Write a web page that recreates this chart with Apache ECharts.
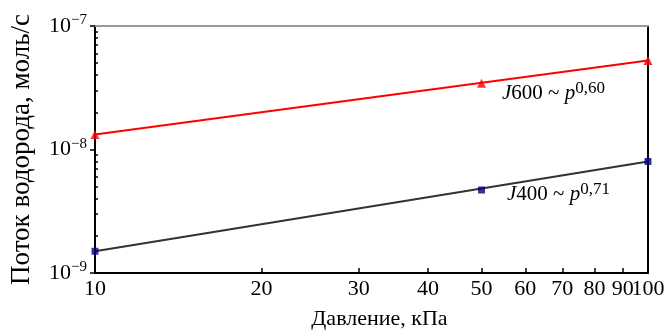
<!DOCTYPE html>
<html>
<head>
<meta charset="utf-8">
<script src="https://cdn.jsdelivr.net/npm/echarts@6/dist/echarts.min.js"></script>
<style>
  html, body { margin: 0; padding: 0; background: #fff; }
  #chart { width: 669px; height: 335px; }
</style>
</head>
<body>
<div id="chart"></div>
<script>
// measured points
const pressure = [10, 50, 100]
const j600 = [1.32e-8, 3.44e-8, 5.25e-8]
const j400 = [1.5e-9, 4.7e-9, 8.0e-9]

// fitted power lines (end points)
const fitX = [10, 100]
const fit600 = [1.32e-8, 5.25e-8]
const fit400 = [1.5e-9, 8.0e-9]

// tick values
const xTicks = [10, 20, 30, 40, 50, 60, 70, 80, 90]
const xLast = [100]
const yMajor = [1e-9, 1e-8, 1e-7]
const yMinor = [2e-9, 3e-9, 4e-9, 5e-9, 6e-9, 7e-9, 8e-9, 9e-9,
  2e-8, 3e-8, 4e-8, 5e-8, 6e-8, 7e-8, 8e-8, 9e-8]

const font = 'Liberation Serif'

const pairs = (xs, ys) => xs.map((x, i) => [x, ys[i]])

const noteRich = {
  i: { fontFamily: font, fontStyle: 'italic', fontSize: 21, lineHeight: 26, fill: '#000' },
  n: { fontFamily: font, fontSize: 21, lineHeight: 26, fill: '#000' },
  s: { fontFamily: font, fontSize: 17, lineHeight: 17, verticalAlign: 'top', fill: '#000' }
}

const chart = echarts.init(document.getElementById('chart'))

chart.setOption({
  animation: false,
  textStyle: { fontFamily: font, color: '#000' },
  grid: { left: 94, right: 21, top: 26, bottom: 59, show: false },
  xAxis: [{
    type: 'log',
    logBase: 10,
    min: 10,
    max: 100,
    position: 'bottom',
    name: 'Давление, кПа',
    nameLocation: 'middle',
    nameGap: 35,
    nameTextStyle: { fontFamily: font, fontSize: 22, color: '#000', padding: [0, 0, 0, 16] },
    axisLine: { lineStyle: { color: '#000', width: 2 } },
    axisTick: { inside: true, length: 5, customValues: xTicks.slice(1), lineStyle: { color: '#000', width: 1.5 } },
    axisLabel: {
      customValues: xTicks,
      showMinLabel: true,
      margin: 5,
      fontFamily: font,
      fontSize: 22,
      color: '#000'
    },
    splitLine: { show: false },
    minorTick: { show: false }
  }, {
    // label "100" on its own axis so it is not dropped next to "90"
    type: 'log',
    logBase: 10,
    min: 10,
    max: 100,
    position: 'bottom',
    axisLine: { show: false },
    axisTick: { show: false },
    axisLabel: {
      customValues: xLast,
      showMaxLabel: true,
      margin: 5,
      fontFamily: font,
      fontSize: 22,
      color: '#000'
    },
    splitLine: { show: false }
  }, {
    type: 'log',
    position: 'top',
    min: 10,
    max: 100,
    axisLine: { lineStyle: { color: '#999', width: 2 } },
    axisTick: { show: false },
    axisLabel: { show: false },
    splitLine: { show: false }
  }],
  yAxis: [{
    type: 'log',
    logBase: 10,
    min: 1e-9,
    max: 1e-7,
    position: 'left',
    name: 'Поток водорода, моль/с',
    nameLocation: 'middle',
    nameGap: 60,
    nameTextStyle: { fontFamily: font, fontSize: 27, color: '#000' },
    axisLine: { lineStyle: { color: '#000', width: 2 } },
    axisTick: { inside: false, length: 5, customValues: yMajor, lineStyle: { color: '#000', width: 1.5 } },
    axisLabel: {
      customValues: yMajor,
      showMinLabel: true,
      showMaxLabel: true,
      margin: 8,
      formatter: v => '{b|10}{s|−' + Math.round(-Math.log10(v)) + '}',
      rich: {
        b: { fontFamily: font, fontSize: 22, lineHeight: 26, color: '#000' },
        s: { fontFamily: font, fontSize: 15, lineHeight: 15, verticalAlign: 'top', color: '#000' }
      }
    },
    splitLine: { show: false }
  }, {
    type: 'log',
    logBase: 10,
    min: 1e-9,
    max: 1e-7,
    position: 'left',
    axisLine: { show: false },
    axisTick: { inside: true, length: 3, customValues: yMinor, lineStyle: { color: '#000', width: 1.5 } },
    axisLabel: { show: false },
    splitLine: { show: false }
  }, {
    type: 'log',
    logBase: 10,
    min: 1e-9,
    max: 1e-7,
    position: 'right',
    axisLine: { lineStyle: { color: '#000', width: 2 } },
    axisTick: { show: false },
    axisLabel: { show: false },
    splitLine: { show: false }
  }],
  graphic: [{
    type: 'text',
    left: 502,
    top: 80,
    style: { text: '{i|J}{n|600 ~ }{i|p}{s|0,60}', rich: noteRich }
  }, {
    type: 'text',
    left: 507,
    top: 181,
    style: { text: '{i|J}{n|400 ~ }{i|p}{s|0,71}', rich: noteRich }
  }],
  series: [{
    name: 'fit600',
    type: 'line',
    data: pairs(fitX, fit600),
    showSymbol: false,
    lineStyle: { color: '#ff0000', width: 2 },
    z: 2
  }, {
    name: 'fit400',
    type: 'line',
    data: pairs(fitX, fit400),
    showSymbol: false,
    lineStyle: { color: '#333', width: 2 },
    z: 2
  }, {
    name: 'J600',
    type: 'scatter',
    data: pairs(pressure, j600),
    symbol: 'triangle',
    symbolSize: 9,
    clip: false,
    itemStyle: { color: '#ff0000' },
    z: 3
  }, {
    name: 'J400',
    type: 'scatter',
    data: pairs(pressure, j400),
    symbol: 'rect',
    symbolSize: 7,
    clip: false,
    itemStyle: { color: '#000080' },
    z: 3
  }]
})
</script>
</body>
</html>
